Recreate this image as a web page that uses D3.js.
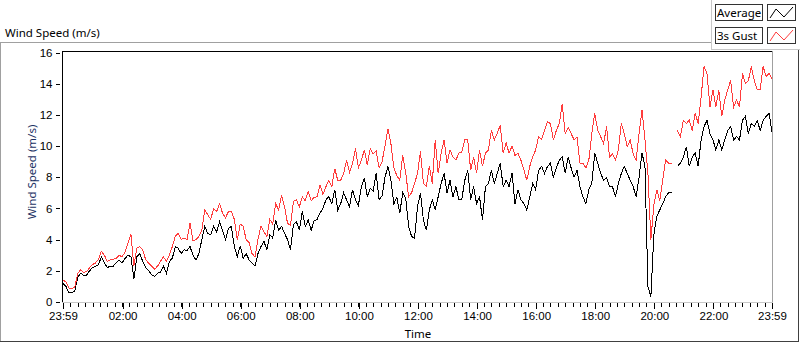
<!DOCTYPE html>
<html>
<head>
<meta charset="utf-8">
<script src="https://cdn.jsdelivr.net/npm/d3@7"></script>
<style>
    body { margin: 0; background: #fff; }
    svg { display: block; font-family: "Noto Sans", sans-serif; }
</style>
</head>
<body>
<div id="chart"></div>
<script>

// one sample every 6 minutes, starting 23:59 (null = no data)
var startTime = new Date(2021, 5, 1, 23, 59);
var stepMinutes = 6;

var average = [
    1.2, 1.0, 0.6, 0.58, 0.7, 1.6, 1.85, 1.7, 1.72, 2.0,
    2.2, 2.28, 2.4, 2.9, 2.5, 2.2, 2.3, 2.3, 2.5, 2.7,
    2.5, 2.8, 3.0, 2.9, 1.47, 2.9, 3.1, 2.6, 2.2, 2.0,
    1.75, 1.64, 1.85, 1.9, 2.3, 1.85, 2.6, 2.8, 3.55, 3.45,
    3.1, 3.35, 3.3, 3.55, 3.0, 2.7, 3.1, 4.0, 4.85, 4.4,
    4.3, 4.85, 4.5, 5.15, 4.6, 4.0, 4.7, 4.85, 3.55, 2.9,
    3.6, 2.8, 3.1, 2.7, 2.5, 2.3, 3.1, 3.55, 3.9, 3.35,
    4.3, 4.1, 5.25, 4.6, 4.85, 4.4, 4.0, 3.35, 4.95, 5.15,
    4.6, 5.8, 4.85, 5.25, 4.6, 5.2, 5.3, 5.7, 6.0, 6.55,
    6.75, 6.3, 7.2, 5.9, 6.3, 7.0, 6.55, 6.1, 7.2, 6.55,
    6.2, 7.4, 7.95, 6.75, 7.3, 7.1, 8.25, 6.55, 6.8, 8.0,
    8.7, 7.8, 6.3, 6.7, 5.7, 7.0, 6.65, 4.85, 4.2, 4.1,
    6.1, 7.0, 5.25, 4.6, 5.9, 6.55, 5.9, 6.75, 7.6, 8.25,
    7.0, 7.8, 6.75, 7.4, 6.55, 6.6, 7.8, 8.45, 6.55, 7.4,
    6.3, 6.75, 5.25, 7.4, 7.6, 8.45, 7.6, 8.25, 8.9, 7.4,
    7.8, 7.4, 8.25, 6.3, 7.2, 6.55, 6.3, 5.9, 6.75, 7.6,
    7.2, 8.45, 8.7, 8.25, 8.7, 8.9, 8.0, 8.6, 9.1, 9.3,
    8.25, 9.3, 8.6, 8.0, 8.45, 7.4, 6.75, 6.3, 7.2, 7.6,
    9.55, 8.9, 8.25, 7.8, 8.0, 7.4, 7.4, 6.75, 7.6, 8.25,
    8.7, 8.25, 7.8, 7.4, 6.75, 8.0, 9.55, 8.7, 1.0, 0.36,
    4.3, 5.5, 5.9, 6.3, 6.75, 7.0, 7.0, null, 8.7, 8.9,
    9.3, 9.95, 8.7, 9.3, 9.55, 8.7, 10.4, 11.25, 11.65, 10.8,
    10.4, 9.75, 10.4, 9.75, 10.4, 11.0, 11.25, 10.4, 10.6, 10.4,
    11.65, 11.9, 10.8, 11.45, 11.25, 11.65, 11.0, 11.65, 11.9, 12.1,
    10.9
];

var gust = [
    1.4, 1.3, 0.9, 0.85, 0.95, 1.85, 2.07, 1.9, 1.95, 2.2,
    2.4, 2.5, 2.75, 3.25, 3.0, 2.6, 2.7, 2.75, 2.8, 3.0,
    2.9, 3.2, 3.8, 4.35, 2.3, 3.45, 3.55, 3.35, 2.7, 2.5,
    2.3, 2.1, 2.3, 2.6, 2.9, 2.6, 3.0, 3.55, 4.2, 4.4,
    4.0, 4.1, 4.0, 5.05, 3.9, 4.0, 4.2, 4.6, 5.9, 5.6,
    5.3, 6.0, 5.8, 6.3, 5.7, 5.4, 5.8, 5.8, 5.3, 4.0,
    5.0, 4.85, 4.0, 3.8, 3.1, 2.9, 4.0, 4.85, 4.5, 4.2,
    5.3, 5.0, 6.3, 5.9, 6.85, 6.1, 5.05, 4.9, 6.45, 6.55,
    6.1, 6.75, 6.5, 7.1, 6.5, 6.7, 6.75, 7.5, 6.9, 7.4,
    7.8, 7.4, 8.55, 7.8, 7.8, 8.25, 9.1, 8.3, 8.9, 9.85,
    8.6, 9.1, 9.75, 8.8, 9.85, 9.5, 9.7, 8.6, 9.0, 10.0,
    11.1, 10.15, 8.6, 8.1, 7.8, 9.4, 8.3, 6.75, 7.0, 7.6,
    8.25, 9.65, 7.6, 7.4, 8.7, 7.6, 10.4, 8.25, 9.55, 10.4,
    8.9, 9.75, 9.3, 9.1, 9.55, 9.6, 10.4, 10.4, 8.45, 9.3,
    8.25, 9.75, 8.7, 9.55, 9.75, 11.0, 10.4, 10.8, 11.35, 9.55,
    10.2, 9.55, 10.0, 9.4, 9.55, 9.1, 8.5, 7.8, 8.7, 9.3,
    9.75, 10.6, 10.4, 11.0, 11.55, 11.45, 10.4, 11.0, 11.45, 12.7,
    10.8, 11.2, 10.8, 10.4, 10.6, 8.9, 8.9, 8.6, 9.1, 10.8,
    12.1, 11.0, 10.6, 10.15, 11.25, 9.3, 9.5, 9.1, 9.75, 11.45,
    10.8, 9.95, 10.4, 9.5, 9.1, 10.8, 12.3, 10.4, 8.25, 4.0,
    6.2, 7.2, 6.5, 7.8, 9.1, 8.9, 8.9, null, 11.0, 10.6,
    11.65, 11.45, 11.65, 11.0, 12.1, 11.45, 13.15, 15.1, 14.65, 12.5,
    13.6, 12.5, 13.6, 11.9, 12.95, 13.6, 14.2, 12.5, 12.95, 12.5,
    14.65, 14.0, 14.2, 15.1, 14.2, 13.6, 13.6, 15.1, 14.45, 14.65,
    14.3
];

var yTicks = [0, 2, 4, 6, 8, 10, 12, 14, 16];
var xTickLabels = ["23:59", "02:00", "04:00", "06:00", "08:00", "10:00", "12:00",
    "14:00", "16:00", "18:00", "20:00", "22:00", "23:59"];
var seriesNames = ["Average", "3s Gust"];
var seriesColors = ["#000000", "#ff3c3c"];

function show_chart(div_id) {
    var width = 800, height = 342;
    var fontSize = '11.5px';
    // plot area (inner frame)
    var plot = {left: 62, top: 51, right: 772, bottom: 302};

    var svg = d3.select('#' + div_id).append('svg')
        .attr('width', width)
        .attr('height', height);

    var endTime = d3.timeMinute.offset(startTime, 24 * 60);
    var x = d3.scaleTime().domain([startTime, endTime]).range([63, 772]);
    var y = d3.scaleLinear().domain([0, 16]).range([302, 52.5]);

    // outer chart frame
    var frame = svg.append('g').attr('shape-rendering', 'crispEdges');
    frame.append('line').attr('x1', 0).attr('x2', 711).attr('y1', 42.5).attr('y2', 42.5).attr('stroke', '#a0a0a0');
    frame.append('line').attr('x1', 0.5).attr('x2', 0.5).attr('y1', 42).attr('y2', 342).attr('stroke', '#a0a0a0');
    frame.append('line').attr('x1', 0).attr('x2', 799).attr('y1', 341.5).attr('y2', 341.5).attr('stroke', '#404040');
    frame.append('line').attr('x1', 798.5).attr('x2', 798.5).attr('y1', 49).attr('y2', 342).attr('stroke', '#404040');
    // legend panel border
    frame.append('line').attr('x1', 711.5).attr('x2', 711.5).attr('y1', 0).attr('y2', 50).attr('stroke', '#c8c8c8');
    frame.append('line').attr('x1', 711).attr('x2', 800).attr('y1', 49.5).attr('y2', 49.5).attr('stroke', '#c8c8c8');

    // chart title
    svg.append('text')
        .attr('x', 5)
        .attr('y', 37)
        .style('font-size', fontSize)
        .text('Wind Speed (m/s)');

    // plot area frame
    frame.append('line').attr('x1', plot.left).attr('x2', plot.right + 1).attr('y1', plot.top + 0.5).attr('y2', plot.top + 0.5).attr('stroke', '#000');
    frame.append('line').attr('x1', plot.left + 0.5).attr('x2', plot.left + 0.5).attr('y1', plot.top).attr('y2', plot.bottom + 1).attr('stroke', '#000');
    frame.append('line').attr('x1', plot.right + 0.5).attr('x2', plot.right + 0.5).attr('y1', plot.top).attr('y2', plot.bottom + 1).attr('stroke', '#a0a0a0');
    frame.append('line').attr('x1', plot.left).attr('x2', plot.right + 1).attr('y1', plot.bottom + 0.5).attr('y2', plot.bottom + 0.5).attr('stroke', '#c8c8c8');

    // y axis
    var yAxis = svg.append('g')
        .attr('transform', 'translate(59.5,0)')
        .call(d3.axisLeft(y).tickValues(yTicks).tickSize(4).tickPadding(3));
    yAxis.select('.domain').remove();
    yAxis.selectAll('text').style('font-size', fontSize).attr('fill', '#000');

    // x axis: minor ticks every 15 min, labelled majors
    var minorTicks = d3.range(0, 24 * 60 + 1, 15).map(function(m) {
        return d3.timeMinute.offset(startTime, m);
    });
    var nextDay = d3.timeDay.offset(d3.timeDay.floor(startTime), 1);
    var majorTicks = xTickLabels.map(function(s, k) {
        if (k === 0) return startTime;
        var p = s.split(':');
        var d = new Date(nextDay);
        d.setHours(+p[0], +p[1]);
        return d;
    });

    var xMinor = svg.append('g')
        .attr('transform', 'translate(0,303)')
        .call(d3.axisBottom(x).tickValues(minorTicks).tickSize(4).tickFormat(''));
    xMinor.select('.domain').remove();

    var xMajor = svg.append('g')
        .attr('transform', 'translate(0,303)')
        .call(d3.axisBottom(x).tickValues(majorTicks).tickSize(6).tickPadding(3)
            .tickFormat(function(d, k) { return xTickLabels[k]; }));
    xMajor.select('.domain').remove();
    xMajor.selectAll('text').style('font-size', fontSize).attr('fill', '#000');
    svg.selectAll('.tick line').attr('shape-rendering', 'crispEdges');

    // axis titles
    svg.append('text')
        .attr('x', 418)
        .attr('y', 338)
        .attr('text-anchor', 'middle')
        .style('font-size', fontSize)
        .text('Time');

    svg.append('text')
        .attr('transform', 'translate(36,172) rotate(-90)')
        .attr('text-anchor', 'middle')
        .style('font-size', fontSize)
        .attr('fill', '#1c3264')
        .text('Wind Speed (m/s)');

    // data
    svg.append('clipPath').attr('id', 'plot-clip')
        .append('rect')
        .attr('x', plot.left + 1).attr('y', plot.top + 1)
        .attr('width', plot.right - plot.left - 1)
        .attr('height', plot.bottom - plot.top);

    var line = d3.line()
        .defined(function(d) { return d.v !== null; })
        .x(function(d) { return x(d.t); })
        .y(function(d) { return y(d.v); });

    [average, gust].forEach(function(values, s) {
        var pts = values.map(function(v, i) {
            return {t: d3.timeMinute.offset(startTime, i * stepMinutes), v: v};
        });
        svg.append('path')
            .datum(pts)
            .attr('clip-path', 'url(#plot-clip)')
            .attr('fill', 'none')
            .attr('stroke', seriesColors[s])
            .attr('stroke-width', 1)
            .attr('shape-rendering', 'crispEdges')
            .attr('d', line);
    });

    // legend
    var legend = svg.append('g');
    seriesNames.forEach(function(name, s) {
        var g = legend.append('g').attr('transform', 'translate(0,' + (s * 23) + ')');
        g.append('rect')
            .attr('x', 715.5).attr('y', 4.5).attr('width', 47).attr('height', 16)
            .attr('fill', '#fff').attr('stroke', '#333').attr('shape-rendering', 'crispEdges');
        g.append('text')
            .attr('x', 717).attr('y', 17)
            .style('font-size', fontSize)
            .text(name);
        g.append('rect')
            .attr('x', 767.5).attr('y', 4.5).attr('width', 28).attr('height', 16)
            .attr('fill', '#fff').attr('stroke', '#333').attr('shape-rendering', 'crispEdges');
        g.append('polyline')
            .attr('points', '770,18 776,9 784,17 793,7')
            .attr('fill', 'none')
            .attr('stroke', seriesColors[s]);
    });
}

show_chart('chart');
</script>
</body>
</html>
